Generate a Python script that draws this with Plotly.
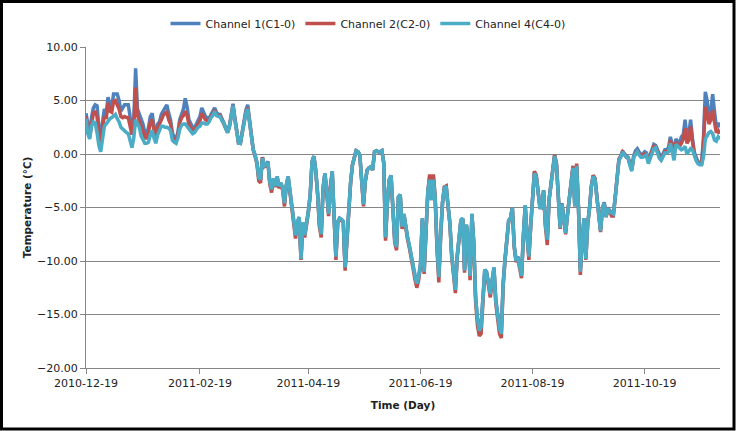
import pandas as pd
import plotly.graph_objects as go

start_date = "2010-12-19"

ch1 = [
    3.8, 2.5, 1.8, 3.4, 4.3, 4.6, 4.5, 2.5, 1.6, 3.0,
    4.2, 3.8, 5.3, 4.6, 4.4, 5.6, 5.6, 5.6, 5.0, 4.0,
    4.3, 4.6, 4.6, 4.6, 3.5, 2.6, 3.2, 8.0, 4.2, 3.8,
    3.2, 2.8, 2.0, 1.8, 2.5, 3.5, 3.8, 2.5, 2.0, 2.8,
    3.0, 3.7, 4.0, 4.4, 4.6, 3.8, 3.2, 2.0, 1.5, 1.4,
    2.0, 3.2, 3.8, 4.2, 5.2, 4.4, 3.2, 2.8, 2.5, 2.4,
    2.8, 3.0, 3.5, 4.3, 3.8, 3.5, 3.4, 3.3, 3.7, 4.0,
    4.3, 3.9, 3.7, 3.7, 3.3, 3.0, 2.6, 2.1, 2.6, 3.8,
    4.7, 3.4, 2.0, 1.1, 1.0, 2.2, 3.3, 4.1, 4.6, 3.2,
    2.0, 0.4, -0.1, -0.8, -2.2, -2.4, -0.3, -1.1, -1.0, -0.7,
    -2.6, -3.3, -2.3, -3.0, -2.1, -3.0, -2.7, -3.2, -4.5, -2.9,
    -2.1, -3.4, -5.3, -6.3, -7.5, -6.4, -5.9, -9.8, -6.4, -7.5,
    -6.6, -5.3, -3.8, -0.7, -0.2, -1.5, -3.6, -6.5, -7.4, -3.2,
    -1.8, -3.3, -5.5, -3.0, -1.6, -5.8, -9.6, -6.3, -6.0, -6.1,
    -6.3, -10.6, -7.5, -5.3, -2.6, -1.0, -0.2, 0.3, 0.2, -0.1,
    -2.4, -4.6, -2.5, -1.5, -1.3, -1.2, -1.4, 0.2, 0.3, 0.2,
    0.2, 0.3, -0.8, -7.8, -4.5, -2.4, -2.0, -4.8, -8.0, -8.5,
    -4.0, -3.8, -6.8, -5.6, -6.9, -7.8, -8.6, -9.6, -10.5, -11.3,
    -12.0, -11.4, -10.3, -6.0, -10.8, -7.0, -3.5, -2.1, -4.2, -2.0,
    -4.0, -8.5, -11.3, -7.5, -4.5, -3.1, -3.0, -4.8, -6.4, -9.4,
    -11.0, -12.5, -9.5, -7.8, -6.2, -6.0, -10.8, -6.6, -8.0, -11.2,
    -5.6, -8.2, -13.3, -15.3, -16.3, -16.0, -13.5, -10.8, -11.0, -12.3,
    -13.0, -11.8, -10.6, -13.6, -15.0, -16.2, -16.5, -12.0, -9.8, -8.0,
    -6.2, -6.0, -5.0, -8.5, -9.8, -9.6, -10.4, -11.3, -7.6, -4.8,
    -7.5, -9.5, -6.6, -3.5, -1.7, -2.0, -3.6, -4.9, -5.0, -3.4,
    -6.5, -7.8, -4.2, -2.7, -1.0, -0.1, -0.9, -4.0, -6.8, -4.6,
    -6.0, -7.3, -5.6, -4.2, -2.3, -1.2, -4.8, -1.1, -5.0, -10.8,
    -8.0, -6.0, -9.6, -6.5, -5.0, -3.0, -2.0, -2.3, -4.0, -5.6,
    -7.1, -5.1, -4.5, -5.8, -5.0, -5.3, -5.4, -5.5, -4.0, -2.0,
    -0.5, -0.2, 0.3, 0.0, -0.2, -0.3, -0.9, -1.4, -0.2, 0.3,
    0.5, 0.1, -0.1, 0.0, 0.2, 0.1, -0.6, -0.1, 0.4, 0.9,
    0.8, 0.4, -0.2, -0.4, 0.0, 0.4, 0.4, 0.6, 1.6, 1.0,
    0.2, 1.4, 1.2, 1.0, 1.6, 1.8, 3.2, 1.6, 1.8, 3.2,
    1.5, 0.2, -0.3, -0.7, -0.8, -0.8, 1.5, 5.8, 5.0, 3.2,
    4.0, 5.6, 4.0, 2.5, 2.9, 2.5,
]

ch2 = [
    3.5, 2.2, 1.6, 3.0, 3.8, 4.0, 3.5, 1.8, 1.0, 2.6,
    3.5, 3.3, 4.8, 4.0, 3.9, 4.9, 5.0, 4.6, 4.2, 3.5,
    3.4, 3.5, 3.4, 3.4, 2.6, 1.8, 2.6, 6.2, 3.6, 3.0,
    2.6, 2.2, 1.5, 1.5, 2.0, 3.0, 3.2, 2.2, 1.6, 2.4,
    2.8, 3.3, 3.6, 3.8, 3.9, 3.2, 2.8, 1.6, 1.3, 1.2,
    1.8, 2.9, 3.4, 3.6, 4.0, 3.6, 2.8, 2.5, 2.2, 2.2,
    2.5, 2.8, 3.1, 3.8, 3.4, 3.2, 3.1, 3.1, 3.5, 3.8,
    4.1, 3.7, 3.6, 3.6, 3.2, 2.9, 2.5, 2.0, 2.5, 3.6,
    4.5, 3.3, 1.9, 1.0, 1.0, 2.1, 3.2, 3.9, 4.3, 3.1,
    1.9, 0.4, -0.2, -0.9, -2.5, -2.7, -0.3, -1.2, -1.1, -0.8,
    -2.8, -3.6, -2.4, -3.1, -2.2, -3.2, -2.8, -3.4, -4.9, -3.0,
    -2.2, -3.6, -5.5, -6.7, -7.9, -6.6, -6.0, -9.9, -6.5, -7.8,
    -6.8, -5.5, -3.9, -0.8, -0.2, -1.6, -3.7, -6.8, -7.8, -3.3,
    -1.9, -3.4, -5.8, -3.1, -1.7, -6.0, -9.9, -6.4, -6.1, -6.2,
    -6.4, -10.9, -7.7, -5.4, -2.7, -1.0, -0.2, 0.3, 0.2, -0.1,
    -2.5, -4.9, -2.6, -1.5, -1.3, -1.2, -1.5, 0.2, 0.3, 0.2,
    0.2, 0.3, -0.8, -8.1, -4.6, -2.5, -2.1, -4.9, -8.3, -9.0,
    -4.1, -3.9, -7.0, -5.7, -7.1, -8.0, -8.8, -9.9, -10.8, -11.7,
    -12.5, -11.8, -10.6, -6.2, -11.2, -7.2, -3.7, -1.9, -4.3, -1.9,
    -4.1, -8.9, -12.0, -7.7, -4.6, -3.1, -3.0, -4.9, -6.5, -9.6,
    -11.3, -13.0, -9.7, -8.0, -6.3, -6.1, -11.1, -6.7, -8.2, -11.8,
    -5.7, -8.4, -13.8, -16.0, -17.0, -16.8, -13.9, -11.0, -11.2, -12.6,
    -13.4, -12.0, -10.8, -14.0, -15.5, -16.8, -17.2, -12.4, -10.0, -8.1,
    -6.3, -6.0, -5.0, -8.7, -10.1, -9.8, -10.7, -11.6, -7.8, -4.9,
    -7.7, -9.9, -6.8, -3.6, -1.6, -2.0, -3.7, -5.0, -5.0, -3.4,
    -6.8, -8.5, -4.3, -2.7, -1.0, -0.1, -0.9, -4.1, -7.0, -4.7,
    -6.1, -7.5, -5.7, -4.3, -2.3, -1.1, -4.9, -0.9, -5.1, -11.3,
    -8.2, -6.1, -9.9, -6.6, -5.1, -3.0, -2.0, -2.3, -4.0, -5.7,
    -7.3, -5.1, -4.6, -5.9, -5.1, -5.4, -5.8, -5.8, -4.1, -2.1,
    -0.5, -0.2, 0.2, 0.0, -0.3, -0.4, -1.0, -1.5, -0.3, 0.1,
    0.3, 0.0, -0.2, -0.1, 0.0, -0.1, -0.7, -0.2, 0.2, 0.7,
    0.7, 0.2, -0.3, -0.5, -0.1, 0.2, 0.2, 0.4, 1.3, 0.6,
    -0.1, 1.1, 0.9, 0.7, 1.0, 1.4, 2.4, 1.0, 1.3, 2.6,
    1.2, 0.0, -0.5, -0.8, -0.9, -0.9, 1.0, 4.4, 3.8, 2.8,
    3.2, 4.1, 3.0, 2.0, 2.2, 1.9,
]

ch4 = [
    3.3, 1.9, 1.4, 2.6, 3.0, 2.9, 2.0, 0.8, 0.2, 1.6,
    2.6, 2.8, 3.1, 3.3, 3.4, 3.6, 3.7, 3.3, 3.0, 2.5,
    2.3, 2.2, 2.0, 1.9, 1.2, 0.6, 1.5, 3.2, 2.8, 2.5,
    1.7, 1.4, 1.0, 1.0, 1.1, 1.8, 2.2, 1.5, 1.0, 1.8,
    2.2, 2.6, 2.6, 2.5, 2.5, 2.4, 2.2, 1.3, 1.1, 1.0,
    1.5, 2.3, 2.7, 2.8, 2.8, 2.6, 2.3, 2.1, 1.9, 2.0,
    2.3, 2.5, 2.6, 2.9, 2.9, 2.8, 2.8, 3.0, 3.4, 3.6,
    4.0, 3.6, 3.5, 3.5, 3.1, 2.9, 2.4, 2.0, 2.5, 3.5,
    4.5, 3.2, 1.8, 1.0, 1.0, 2.0, 3.2, 3.8, 4.2, 3.0,
    1.8, 0.4, -0.1, -0.8, -2.2, -2.4, -0.4, -1.1, -1.0, -0.8,
    -2.6, -3.3, -2.3, -3.0, -2.1, -3.0, -2.7, -3.2, -4.6, -2.9,
    -2.1, -3.5, -5.3, -6.3, -7.6, -6.4, -5.9, -9.8, -6.4, -7.6,
    -6.6, -5.4, -3.8, -0.7, -0.2, -1.5, -3.6, -6.6, -7.5, -3.2,
    -1.8, -3.3, -5.6, -3.0, -1.6, -5.8, -9.6, -6.3, -6.0, -6.1,
    -6.3, -10.6, -7.5, -5.3, -2.6, -1.0, -0.2, 0.3, 0.2, -0.1,
    -2.4, -4.7, -2.5, -1.5, -1.3, -1.2, -1.5, 0.2, 0.3, 0.2,
    0.2, 0.3, -0.8, -7.8, -4.5, -2.4, -2.0, -4.8, -8.1, -8.7,
    -4.0, -3.8, -6.8, -5.6, -7.0, -7.8, -8.6, -9.6, -10.5, -11.4,
    -12.1, -11.5, -10.4, -6.0, -11.0, -7.0, -3.5, -2.4, -4.3, -2.4,
    -4.1, -8.6, -11.5, -7.5, -4.5, -3.2, -3.0, -4.8, -6.4, -9.5,
    -11.0, -12.7, -9.5, -7.9, -6.2, -6.0, -10.9, -6.6, -8.0, -11.4,
    -5.6, -8.2, -13.4, -15.4, -16.5, -16.2, -13.6, -10.8, -11.1, -12.4,
    -13.1, -11.8, -10.6, -13.8, -15.2, -16.3, -16.8, -12.2, -9.9, -8.0,
    -6.2, -6.0, -5.0, -8.6, -10.0, -9.6, -10.5, -11.4, -7.6, -4.8,
    -7.6, -9.6, -6.7, -3.6, -1.8, -2.1, -3.7, -5.0, -5.0, -3.4,
    -6.6, -8.0, -4.3, -2.7, -1.1, -0.2, -1.0, -4.1, -6.9, -4.7,
    -6.0, -7.4, -5.7, -4.3, -2.4, -1.3, -4.9, -1.1, -5.1, -11.0,
    -8.1, -6.0, -9.8, -6.5, -5.1, -3.1, -2.1, -2.4, -4.1, -5.7,
    -7.2, -5.2, -4.6, -5.9, -5.1, -5.4, -5.5, -5.6, -4.1, -2.1,
    -0.6, -0.3, 0.2, -0.1, -0.3, -0.4, -1.1, -1.6, -0.3, 0.0,
    0.2, -0.1, -0.3, -0.3, -0.2, -0.1, -0.9, -0.4, 0.1, 0.5,
    0.6, 0.1, -0.4, -0.6, -0.2, 0.1, 0.1, 0.2, 1.0, 0.0,
    -0.6, 0.9, 0.7, 0.5, 0.4, 0.5, 0.7, 0.0, 0.2, 0.5,
    0.4, -0.2, -0.6, -0.9, -1.0, -1.0, -0.3, 1.4, 1.8, 2.0,
    2.1, 1.9, 1.3, 1.2, 1.6, 1.4,
]

series_names = ["Channel 1(C1-0)", "Channel 2(C2-0)", "Channel 4(C4-0)"]
series_colors = ["#4F81BD", "#C0504D", "#4BACC6"]

tick_dates = ["2010-12-19", "2011-02-19", "2011-04-19",
              "2011-06-19", "2011-08-19", "2011-10-19"]
y_ticks = [-20, -15, -10, -5, 0, 5, 10]

dates = pd.date_range(start_date, periods=len(ch1), freq="D")

FONT = "DejaVu Sans"
fig = go.Figure()
for name, vals, col in zip(series_names, [ch1, ch2, ch4], series_colors):
    fig.add_trace(go.Scatter(x=dates, y=vals, mode="lines", name=name,
                             line=dict(color=col, width=3.5)))

W, H = 736, 431
ml, mr, mt, mb = 86, 16, 47, 63
pw, ph = W - ml - mr, H - mt - mb

fig.update_layout(
    width=W, height=H,
    margin=dict(l=ml, r=mr, t=mt, b=mb, autoexpand=False),
    paper_bgcolor="white", plot_bgcolor="white",
    font=dict(family=FONT, size=11, color="#222222"),
    showlegend=True,
    legend=dict(orientation="h", x=(368 - ml) / pw, xanchor="center",
                y=(H - mb - 9) / ph, yanchor="top",
                font=dict(family=FONT, size=11, color="#222222"),
                itemwidth=30, bgcolor="rgba(0,0,0,0)"),
    xaxis=dict(
        type="date",
        range=[dates[0], dates[-1]],
        tickvals=tick_dates, ticktext=tick_dates,
        showgrid=False, zeroline=False,
        showline=True, linecolor="#868686", linewidth=1,
        ticks="outside", ticklen=5, tickcolor="#868686",
        tickfont=dict(family=FONT, size=11, color="#222222"),
        title=dict(text="<b>Time (Day)</b>", standoff=12,
                   font=dict(family=FONT, size=10.5, color="#222222")),
    ),
    yaxis=dict(
        range=[-20, 10],
        tickvals=y_ticks, tickformat=".2f",
        showgrid=True, gridcolor="#868686", gridwidth=1,
        zeroline=False,
        showline=True, linecolor="#868686", linewidth=1,
        ticks="outside", ticklen=5, tickcolor="#868686",
        tickfont=dict(family=FONT, size=11, color="#222222"),
        title=dict(text="<b>Temperature (℃)</b>", standoff=3,
                   font=dict(family=FONT, size=10.5, color="#222222")),
    ),
    shapes=[dict(type="rect", xref="paper", yref="paper",
                 x0=(1.5 - ml) / pw, x1=(W - 2 - ml) / pw,
                 y0=(H - mb - (H - 2)) / ph, y1=(H - mb - 1.5) / ph,
                 line=dict(color="black", width=3), layer="above")],
)

fig.write_html("out.html",
               config={"displayModeBar": False},
               post_script="document.body.style.margin='0';document.body.style.overflow='hidden';")
